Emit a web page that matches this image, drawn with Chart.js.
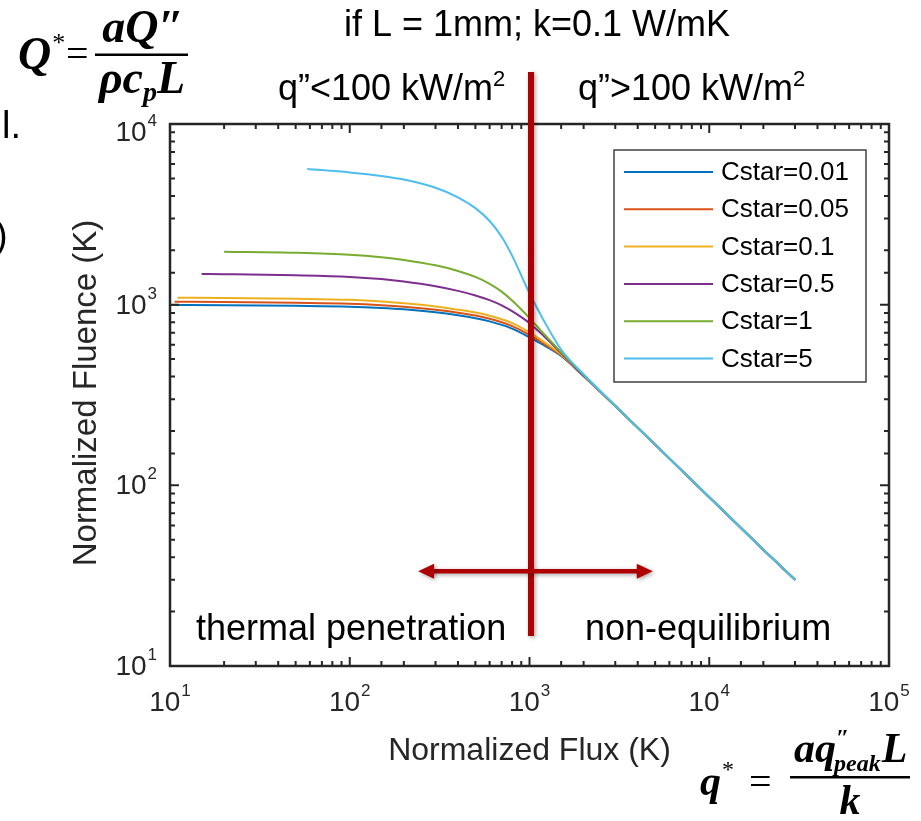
<!DOCTYPE html>
<html lang="en">
<head>
<meta charset="UTF-8">
<title>Normalized Fluence vs Normalized Flux</title>
<script src="https://cdn.jsdelivr.net/npm/chart.js"></script>
<style>
  html, body { margin: 0; padding: 0; background: #fff; }
  canvas { display: block; }
</style>
</head>
<body>
<canvas id="fluenceChart" width="921" height="821"></canvas>
<script>
// values (flux and fluence both in K)
const seriesLabels = ['Cstar=0.01', 'Cstar=0.05', 'Cstar=0.1', 'Cstar=0.5', 'Cstar=1', 'Cstar=5'];
const seriesColors = ['#0072BD', '#D95319', '#EDB120', '#7E2F8E', '#77AC30', '#4DBEEE'];
const startFlux    = [10, 10.6, 11, 15, 20, 58];
const startFluence = [996, 1039, 1093, 1479, 1965, 5636];
const fluxGrid   = [20, 50, 100, 150, 200, 300, 400, 500, 600, 700, 800, 1000, 1200, 1500, 2000, 3000, 5000, 10000, 20000, 30000];
const fluence001 = [993, 985, 975, 959, 942, 907, 873, 841, 808, 773, 737, 660, 597, 520, 402, 275, 168, 86, 44, 30];
const fluence005 = [1035, 1024, 1012, 994, 975, 938, 903, 870, 835, 799, 761, 680, 609, 525, 404, 275, 168, 86, 44, 30];
const fluence01  = [1089, 1078, 1063, 1041, 1017, 977, 938, 904, 869, 830, 791, 703, 624, 530, 405, 275, 168, 86, 44, 30];
const fluence05  = [1475, 1455, 1425, 1385, 1342, 1263, 1192, 1125, 1059, 991, 920, 790, 671, 540, 406, 275, 168, 86, 44, 30];
const fluence1   = [null, 1939, 1892, 1832, 1769, 1651, 1537, 1424, 1305, 1181, 1054, 843, 690, 546, 409, 275, 168, 86, 44, 30];
const fluence5   = [null, null, 5395, 5160, 4927, 4435, 3929, 3421, 2905, 2377, 1869, 1156, 818, 565, 412, 276, 168, 86, 44, 30];
const xDecades = [10, 100, 1000, 10000, 100000];
const yDecades = [10, 100, 1000, 10000];

const SANS = '"Liberation Sans", Arial, Helvetica, sans-serif';
const SERIF = '"Liberation Serif", "Times New Roman", serif';
const AXIS = '#262626';
const DARKRED = '#AE0000';

const allFluence = [fluence001, fluence005, fluence01, fluence05, fluence1, fluence5];

function buildSeries(i) {
    const pts = [{ x: startFlux[i], y: startFluence[i] }];
    allFluence[i].forEach(function(v, k) {
        if (v !== null && fluxGrid[k] > startFlux[i]) pts.push({ x: fluxGrid[k], y: v });
    });
    return pts;
}

function isDecade(v) {
    const l = Math.log10(v);
    return Math.abs(l - Math.round(l)) < 1e-6;
}

// draws pieces of text one after another: [text, font, dy, extra gap]
function drawRun(ctx, parts, x, y) {
    parts.forEach(function(p) {
        ctx.font = p[1];
        ctx.fillText(p[0], x, y + (p[2] || 0));
        x += ctx.measureText(p[0]).width + (p[3] || 0);
    });
    return x;
}
function runWidth(ctx, parts) {
    let w = 0;
    parts.forEach(function(p) { ctx.font = p[1]; w += ctx.measureText(p[0]).width + (p[3] || 0); });
    return w;
}

// MATLAB style box, inward ticks and 10^n labels
const matlabFrame = {
    id: 'matlabFrame',
    afterDraw(chart) {
        const { ctx, chartArea: a, scales } = chart;
        const xs = scales.x, ys = scales.y;
        ctx.save();
        ctx.strokeStyle = AXIS;
        ctx.lineWidth = 2;
        ctx.beginPath();
        xs.ticks.forEach(function(t) {
            const px = xs.getPixelForValue(t.value);
            if (px < a.left + 1 || px > a.right - 1) return;
            const len = isDecade(t.value) ? 9 : 5;
            ctx.moveTo(px, a.bottom); ctx.lineTo(px, a.bottom - len);
            ctx.moveTo(px, a.top); ctx.lineTo(px, a.top + len);
        });
        ys.ticks.forEach(function(t) {
            const py = ys.getPixelForValue(t.value);
            if (py < a.top + 1 || py > a.bottom - 1) return;
            const len = isDecade(t.value) ? 9 : 5;
            ctx.moveTo(a.left, py); ctx.lineTo(a.left + len, py);
            ctx.moveTo(a.right, py); ctx.lineTo(a.right - len, py);
        });
        ctx.stroke();
        ctx.lineWidth = 2.5;
        ctx.strokeRect(a.left, a.top, a.right - a.left, a.bottom - a.top);

        ctx.fillStyle = AXIS;
        ctx.textAlign = 'left';
        ctx.textBaseline = 'alphabetic';
        const base = '28px ' + SANS, sup = '17px ' + SANS;
        xDecades.forEach(function(v) {
            const px = xs.getPixelForValue(v);
            const parts = [['10', base, 0, 1], [String(Math.round(Math.log10(v))), sup, -15]];
            drawRun(ctx, parts, px - runWidth(ctx, parts) / 2, a.bottom + 45);
        });
        yDecades.forEach(function(v, i) {
            // the top label sits a little lower, as in the original
            const py = ys.getPixelForValue(v) + (i === yDecades.length - 1 ? 8 : 0);
            const parts = [['10', base, 0, 1], [String(Math.round(Math.log10(v))), sup, -15]];
            drawRun(ctx, parts, 157 - runWidth(ctx, parts), py + 9);
        });

        ctx.font = '32px ' + SANS;
        ctx.textAlign = 'center';
        ctx.fillText('Normalized Flux (K)', (a.left + a.right) / 2, 760);
        ctx.save();
        ctx.translate(87, 393);
        ctx.rotate(-Math.PI / 2);
        ctx.textBaseline = 'middle';
        ctx.font = '33px ' + SANS;
        ctx.fillText('Normalized Fluence (K)', 0, 0);
        ctx.restore();

        // legend box
        const lx = 614, ly = 150, lw = 252, lh = 232;
        ctx.fillStyle = '#fff';
        ctx.fillRect(lx, ly, lw, lh);
        ctx.strokeStyle = '#404040';
        ctx.lineWidth = 1.5;
        ctx.strokeRect(lx, ly, lw, lh);
        ctx.font = '26px ' + SANS;
        ctx.textAlign = 'left';
        ctx.textBaseline = 'middle';
        chart.data.datasets.forEach(function(ds, i) {
            const ry = 172 + i * 37.3;
            ctx.strokeStyle = ds.borderColor;
            ctx.lineWidth = 2;
            ctx.beginPath(); ctx.moveTo(624, ry); ctx.lineTo(713, ry); ctx.stroke();
            ctx.fillStyle = '#000';
            ctx.fillText(ds.label, 721, ry + 1);
        });
        ctx.restore();
    }
};

// red divider, double arrow and slide annotations
const annotations = {
    id: 'annotations',
    afterDraw(chart) {
        const { ctx, scales } = chart;
        const xs = scales.x, ys = scales.y;
        ctx.save();
        ctx.shadowColor = 'rgba(0,0,0,0.35)';
        ctx.shadowBlur = 4;
        ctx.shadowOffsetX = 1.5;
        ctx.shadowOffsetY = 1.5;
        ctx.strokeStyle = DARKRED;
        ctx.fillStyle = DARKRED;

        const divX = xs.getPixelForValue(1000) + 1.5;
        ctx.lineWidth = 6;
        ctx.beginPath(); ctx.moveTo(divX, 72); ctx.lineTo(divX, 636); ctx.stroke();

        const ax1 = xs.getPixelForValue(240), ax2 = xs.getPixelForValue(4850), ay = ys.getPixelForValue(33.5);
        ctx.lineWidth = 4.5;
        ctx.beginPath(); ctx.moveTo(ax1 + 12, ay); ctx.lineTo(ax2 - 12, ay); ctx.stroke();
        ctx.beginPath();
        ctx.moveTo(ax1, ay); ctx.lineTo(ax1 + 16, ay - 7.5); ctx.lineTo(ax1 + 16, ay + 7.5); ctx.closePath();
        ctx.moveTo(ax2, ay); ctx.lineTo(ax2 - 16, ay - 7.5); ctx.lineTo(ax2 - 16, ay + 7.5); ctx.closePath();
        ctx.fill();
        ctx.restore();

        ctx.save();
        ctx.fillStyle = '#000';
        ctx.textBaseline = 'alphabetic';
        ctx.textAlign = 'left';
        const big = '36px ' + SANS, small = '22px ' + SANS;
        ctx.font = big;
        ctx.textAlign = 'center';
        ctx.fillText('if L = 1mm; k=0.1 W/mK', 537, 36);
        ctx.textAlign = 'left';
        drawRun(ctx, [['q\u201d<100 kW/m', big], ['2', small, -14]], 278, 100);
        drawRun(ctx, [['q\u201d>100 kW/m', big], ['2', small, -14]], 578, 100);
        ctx.font = big;
        ctx.fillText('thermal penetration', 196, 640);
        ctx.fillText('non-equilibrium', 585, 640);

        // cut-off slide text on the left
        ctx.font = '38px ' + SANS;
        ctx.fillText('l.', 2, 138);
        ctx.fillText(')', -5, 248);

        // Q* = aQ'' / (rho c_p L)
        const bi = 'bold italic 46px ' + SERIF, biS = 'bold italic 28px ' + SERIF;
        drawRun(ctx, [['Q', bi, 0, 1], ['*', '26px ' + SERIF, -18]], 18, 69);
        ctx.font = '40px ' + SERIF;
        ctx.fillText('=', 66, 67);
        let parts = [['aQ\u2033', bi]];
        drawRun(ctx, parts, 143 - runWidth(ctx, parts) / 2, 42);
        parts = [['\u03c1c', bi], ['p', biS, 8], ['L', bi]];
        drawRun(ctx, parts, 142 - runWidth(ctx, parts) / 2, 93);
        ctx.fillRect(95, 53.5, 93, 2.5);

        // q* = a q''_peak L / k
        const bq = 'bold italic 42px ' + SERIF;
        drawRun(ctx, [['q', bq, 0, 1], ['*', '24px ' + SERIF, -18]], 700, 795);
        ctx.font = '40px ' + SERIF;
        ctx.fillText('=', 749, 795);
        ctx.font = bq;
        let nx = 794;
        ctx.fillText('aq', nx, 762);
        nx += ctx.measureText('aq').width;
        ctx.font = 'bold italic 24px ' + SERIF;
        ctx.fillText('\u2033', nx, 745);
        ctx.fillText('peak', nx - 2, 771);
        nx += ctx.measureText('peak').width - 1;
        ctx.font = bq;
        ctx.fillText('L', nx, 762);
        ctx.fillRect(790, 776, 120, 2.5);
        ctx.textAlign = 'center';
        ctx.fillText('k', 850, 814);
        ctx.restore();
    }
};

const ctx = document.getElementById('fluenceChart').getContext('2d');
const fluenceChart = new Chart(ctx, {
    type: 'line',
    data: {
        datasets: seriesLabels.map(function(label, i) {
            return {
                label: label,
                data: buildSeries(i),
                borderColor: seriesColors[i],
                backgroundColor: seriesColors[i],
                borderWidth: 2,
                pointRadius: 0,
                fill: false,
                cubicInterpolationMode: 'monotone',
                order: seriesLabels.length - i
            };
        })
    },
    options: {
        responsive: false,
        animation: false,
        devicePixelRatio: 1,
        layout: { padding: { left: 170, top: 124, right: 32, bottom: 155 } },
        plugins: {
            legend: { display: false },
            tooltip: { enabled: false },
            title: { display: false }
        },
        scales: {
            x: {
                type: 'logarithmic', min: 10, max: 100000,
                grid: { display: false }, border: { display: false },
                ticks: { display: false, autoSkip: false },
                afterFit: function(s) { s.height = 0; }
            },
            y: {
                type: 'logarithmic', min: 10, max: 10000,
                grid: { display: false }, border: { display: false },
                ticks: { display: false, autoSkip: false },
                afterFit: function(s) { s.width = 0; }
            }
        }
    },
    plugins: [matlabFrame, annotations]
});
</script>
</body>
</html>
